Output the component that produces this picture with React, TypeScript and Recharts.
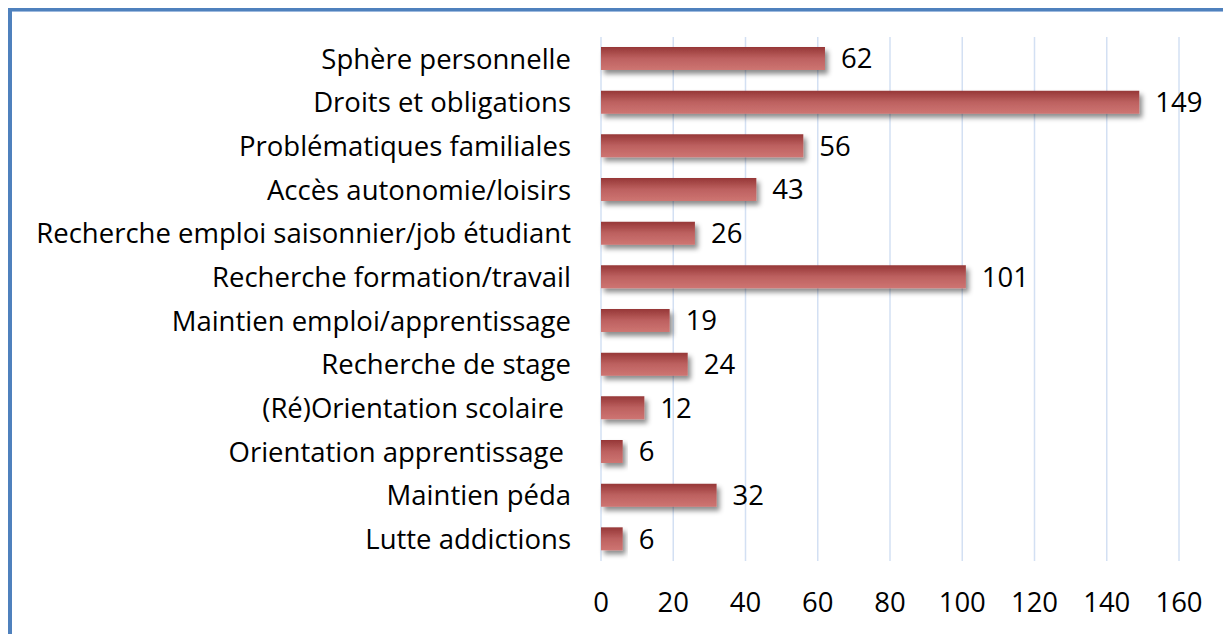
import React from 'react';
import { BarChart, Bar, XAxis, YAxis, CartesianGrid, LabelList } from 'recharts';

const categories = [
  'Sphère personnelle',
  'Droits et obligations',
  'Problématiques familiales',
  'Accès autonomie/loisirs',
  'Recherche emploi saisonnier/job étudiant',
  'Recherche formation/travail',
  'Maintien emploi/apprentissage',
  'Recherche de stage',
  '(Ré)Orientation scolaire ',
  'Orientation apprentissage ',
  'Maintien péda',
  'Lutte addictions',
];
const values = [62, 149, 56, 43, 26, 101, 19, 24, 12, 6, 32, 6];
const xTicks = [0, 20, 40, 60, 80, 100, 120, 140, 160];

const data = categories.map((name, i) => ({ name, value: values[i] }));

const FONT = '"Open Sans", sans-serif';
const FS = 27.5;

const YTick = (props: any) => {
  const { x, y, payload } = props;
  return (
    <text x={x - 30} y={y} dy="0.36em" textAnchor="end" fontFamily={FONT} fontSize={FS} fill="#000" style={{ whiteSpace: 'pre' }}>
      {payload.value}
    </text>
  );
};

const XTick = (props: any) => {
  const { x, y, payload } = props;
  return (
    <text x={x} y={y + 41} dy="0.36em" textAnchor="middle" fontFamily={FONT} fontSize={FS} fill="#000">
      {payload.value}
    </text>
  );
};

export default function App() {
  return (
    <div
      style={{
        width: 1215,
        height: 623,
        borderLeft: '4px solid #4F81BD',
        borderTop: '3px solid #4F81BD',
        borderRight: '2px solid #4F81BD',
        boxShadow: 'inset 0 1px 0 #9DB9DE',
        background: '#fff',
      }}
    >
      <BarChart
        width={1215}
        height={623}
        data={data}
        layout="vertical"
        margin={{ top: 26, right: 48, bottom: 0, left: 0 }}
        barSize={23}
      >
        <defs>
          <linearGradient id="barGrad" x1="0" y1="0" x2="0" y2="1">
            <stop offset="0%" stopColor="#963737" />
            <stop offset="50%" stopColor="#BD6160" />
            <stop offset="100%" stopColor="#CE7572" />
          </linearGradient>
          <filter id="barShadow" x="-10%" y="-30%" width="130%" height="190%">
            <feDropShadow dx="3" dy="4" stdDeviation="2.5" floodColor="#000" floodOpacity="0.45" />
          </filter>
        </defs>
        <CartesianGrid horizontal={false} stroke="#D3E0F3" strokeWidth={1.5} />
        <XAxis
          type="number"
          domain={[0, 160]}
          ticks={xTicks}
          axisLine={false}
          tickLine={false}
          tickSize={0}
          tickMargin={0}
          height={73}
          tick={<XTick />}
          interval={0}
        />
        <YAxis
          type="category"
          dataKey="name"
          width={589}
          axisLine={false}
          tickLine={false}
          tickSize={0}
          tickMargin={0}
          tick={<YTick />}
          interval={0}
        />
        <Bar dataKey="value" fill="url(#barGrad)" filter="url(#barShadow)" isAnimationActive={false}>
          <LabelList dataKey="value" position="right" offset={16} fill="#000" fontFamily={FONT} fontSize={FS} />
        </Bar>
      </BarChart>
    </div>
  );
}
